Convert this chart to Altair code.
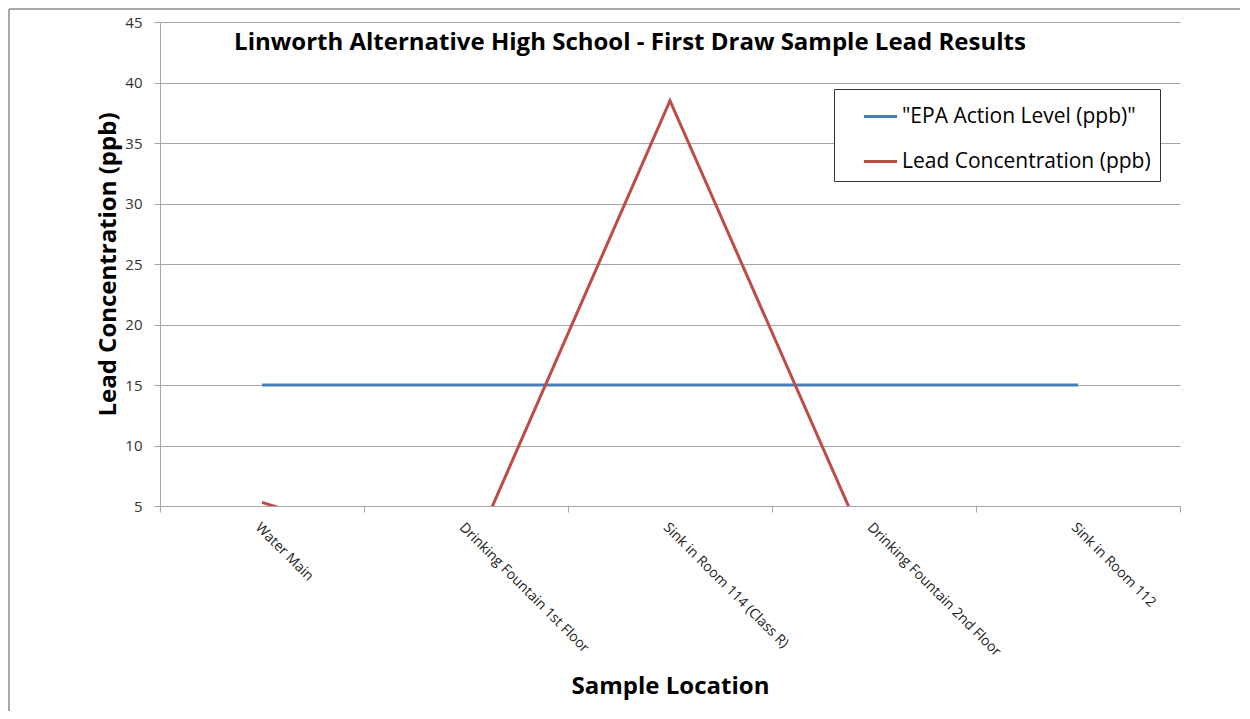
import altair as alt
import pandas as pd

locations = ["Water Main", "Drinking Fountain 1st Floor", "Sink in Room 114 (Class R)",
             "Drinking Fountain 2nd Floor", "Sink in Room 112"]
epa_level = [15, 15, 15, 15, 15]
lead_conc = [5.3, 0.0, 38.5, 0.2, 0.0]
series_names = ['"EPA Action Level (ppb)"', "Lead Concentration (ppb)"]
y_ticks = [5, 10, 15, 20, 25, 30, 35, 40, 45]

rows = []
for i, loc in enumerate(locations):
    rows.append({"loc": loc, "series": series_names[0], "value": epa_level[i], "order": i})
    rows.append({"loc": loc, "series": series_names[1], "value": lead_conc[i], "order": i})
df = pd.DataFrame(rows)

FONT = "Open Sans"

lines = alt.Chart(df).mark_line(strokeWidth=3, clip=True).encode(
    x=alt.X("loc:N", sort=locations, bandPosition=0.5,
            scale=alt.Scale(type="band", paddingInner=0, paddingOuter=0),
            axis=alt.Axis(title="Sample Location", titleFontSize=24, titleFontWeight="bold",
                          titleFont=FONT, titleColor="black", titleY=180,
                          titleBaseline="middle",
                          labelAngle=45, labelAlign="left", labelBaseline="top",
                          labelFontSize=14, labelFont=FONT, labelColor="#222", labelLimit=400,
                          tickBand="extent", grid=False, domainColor="#a6a6a6",
                          tickColor="#a6a6a6", tickSize=6, labelPadding=8)),
    y=alt.Y("value:Q", scale=alt.Scale(domain=[5, 45], nice=False, zero=False),
            axis=alt.Axis(title="Lead Concentration (ppb)", values=y_ticks,
                          titleFontSize=24, titleFontWeight="bold", titleFont=FONT,
                          titleColor="black", titlePadding=4,
                          labelFontSize=15, labelFont=FONT, labelColor="#333",
                          gridColor="#a6a6a6", domainColor="#a6a6a6", tickColor="#a6a6a6",
                          tickSize=6, labelPadding=12)),
    color=alt.Color("series:N", sort=series_names,
                    scale=alt.Scale(domain=series_names, range=["#4A7EBB", "#BE4B48"]),
                    legend=alt.Legend(title=None, orient="none", legendX=674, legendY=67,
                                      symbolType="stroke", symbolStrokeWidth=3, symbolSize=1100,
                                      labelFontSize=21, labelFont=FONT, labelColor="black",
                                      strokeColor="#333", padding=9, rowPadding=16,
                                      symbolOffset=19, labelOffset=3,
                                      fillColor="white", labelLimit=400, offset=0)),
    order="order:Q",
)

frame_df = pd.DataFrame({"a": [0]})
top_edge = alt.Chart(frame_df).mark_rule(stroke="#8c8c8c", strokeWidth=1.5, clip=False).encode(
    x=alt.value(-151), x2=alt.value(1080), y=alt.value(-13))
left_edge = alt.Chart(frame_df).mark_rule(stroke="#8c8c8c", strokeWidth=1.5, clip=False).encode(
    x=alt.value(-151), y=alt.value(-13), y2=alt.value(700))

chart = alt.layer(top_edge, left_edge, lines).properties(
    width=1020, height=484,
    title=alt.TitleParams("Linworth Alternative High School - First Draw Sample Lead Results",
                          fontSize=24, font=FONT, fontWeight="bold", color="black",
                          anchor="middle", dx=-40),
    autosize=alt.AutoSizeParams(type="none"),
    padding={"left": 152, "top": 14, "right": 62, "bottom": 205},
).configure_view(stroke=None).configure_title(offset=-47)

chart.save("out.html", embed_options={"renderer": "svg", "actions": False})
